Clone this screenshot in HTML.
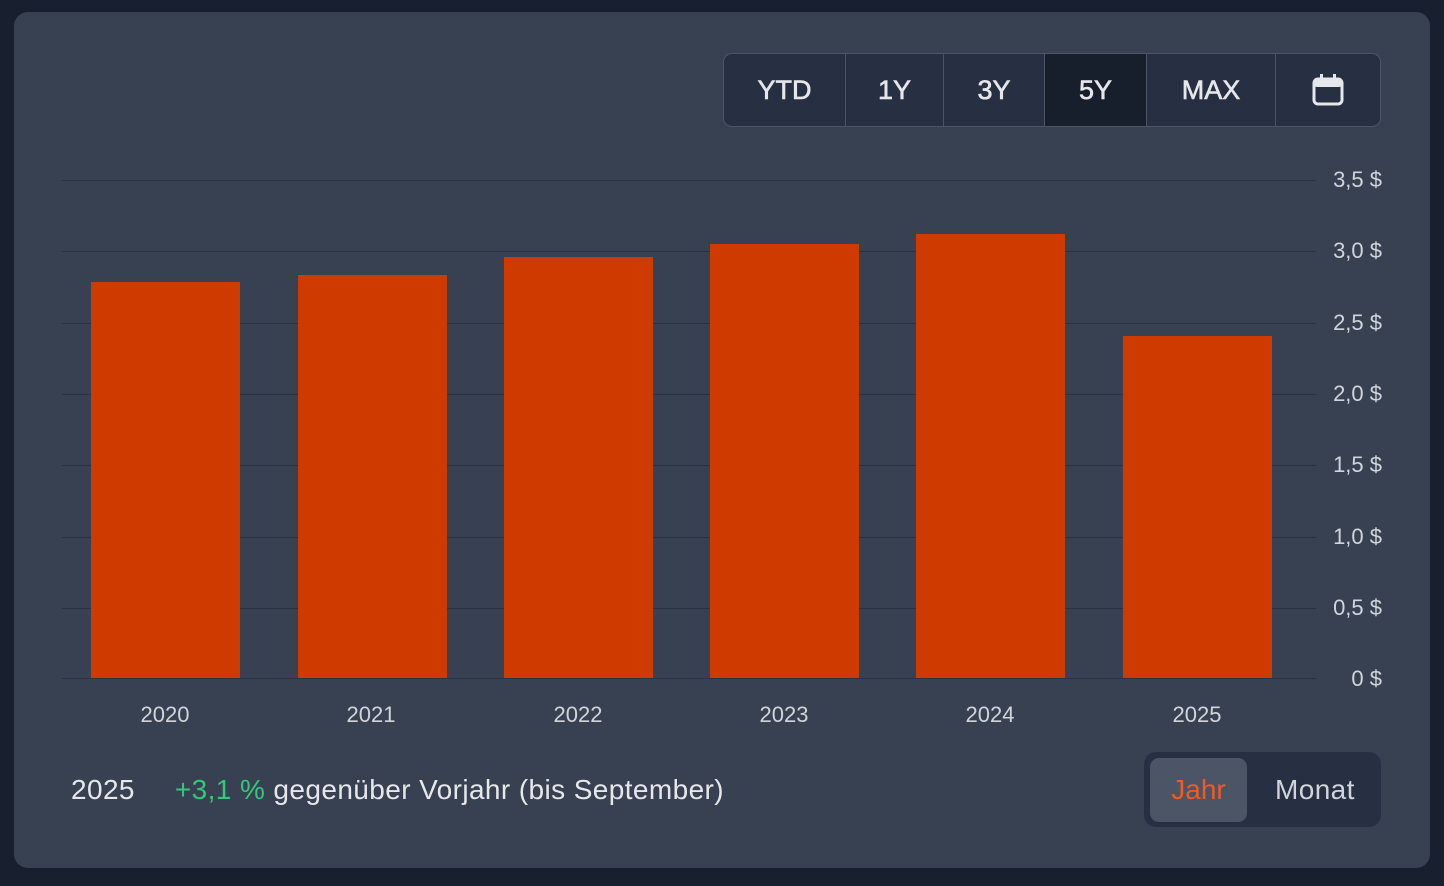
<!DOCTYPE html>
<html><head><meta charset="utf-8"><style>
body{margin:0;width:1444px;height:886px;background:#182030;font-family:"Liberation Sans",sans-serif;position:relative;overflow:hidden}
.card{position:absolute;left:14px;top:12px;width:1416px;height:856px;background:#384152;border-radius:14px}
.grp{position:absolute;left:723px;top:53px;width:656px;height:72px;border:1px solid #4c5566;border-radius:9px;background:#273042;overflow:hidden;display:flex}
.grp div{height:72px;display:flex;align-items:center;justify-content:center;color:#e5e7eb;font-size:27px;border-right:1px solid #4c5566;box-sizing:border-box;-webkit-text-stroke:0.6px #e5e7eb}
.grp div:last-child{border-right:none}
.t{position:absolute;font-size:22px;color:#d1d5db}
.y{position:absolute;width:120px;text-align:center;font-size:22px;color:#d1d5db;top:702px}
.g{position:absolute;left:62px;width:1254px;height:1px;background:#2b3343}
.bar{position:absolute;width:149px;background:#cf3a00}
</style></head><body>
<div class="card"></div>
<div class="grp">
<div style="width:122px">YTD</div><div style="width:98px">1Y</div><div style="width:101px">3Y</div><div style="width:102px;background:#171e2c">5Y</div><div style="width:129px">MAX</div>
<div style="flex:1"><svg width="34" height="34" viewBox="0 0 34 34"><rect x="3" y="6" width="28" height="25" rx="4" fill="none" stroke="#e5e7eb" stroke-width="3"/><rect x="3" y="6" width="28" height="8" rx="3" fill="#e5e7eb"/><rect x="9" y="1" width="3" height="7" fill="#e5e7eb"/><rect x="22" y="1" width="3" height="7" fill="#e5e7eb"/></svg></div>
</div>
<div class="g" style="top:180px"></div><div class="g" style="top:251px"></div><div class="g" style="top:323px"></div><div class="g" style="top:394px"></div><div class="g" style="top:465px"></div><div class="g" style="top:537px"></div><div class="g" style="top:608px"></div><div class="g" style="top:678px"></div>
<div class="t" style="right:62px;top:167px">3,5 $</div>
<div class="t" style="right:62px;top:238px">3,0 $</div>
<div class="t" style="right:62px;top:310px">2,5 $</div>
<div class="t" style="right:62px;top:381px">2,0 $</div>
<div class="t" style="right:62px;top:452px">1,5 $</div>
<div class="t" style="right:62px;top:524px">1,0 $</div>
<div class="t" style="right:62px;top:595px">0,5 $</div>
<div class="t" style="right:62px;top:666px">0 $</div>
<div class="bar" style="left:91px;top:282px;height:396px"></div>
<div class="bar" style="left:298px;top:275px;height:403px"></div>
<div class="bar" style="left:504px;top:257px;height:421px"></div>
<div class="bar" style="left:710px;top:244px;height:434px"></div>
<div class="bar" style="left:916px;top:234px;height:444px"></div>
<div class="bar" style="left:1123px;top:336px;height:342px"></div>
<div class="y" style="left:105px">2020</div>
<div class="y" style="left:311px">2021</div>
<div class="y" style="left:518px">2022</div>
<div class="y" style="left:724px">2023</div>
<div class="y" style="left:930px">2024</div>
<div class="y" style="left:1137px">2025</div>
<div style="position:absolute;left:71px;top:774px;font-size:28px;letter-spacing:0.4px;color:#e5e7eb">2025<span style="margin-left:40px;color:#34c77b">+3,1 %</span> gegenüber Vorjahr (bis September)</div>
<div style="position:absolute;left:1144px;top:752px;width:237px;height:75px;background:#273042;border-radius:12px"></div>
<div style="position:absolute;left:1150px;top:758px;width:97px;height:64px;background:#4b5565;border-radius:9px;color:#f05a24;font-size:28px;display:flex;align-items:center;justify-content:center">Jahr</div>
<div style="position:absolute;left:1275px;top:774px;color:#d1d5db;font-size:28px;letter-spacing:0.4px">Monat</div>
</body></html>
